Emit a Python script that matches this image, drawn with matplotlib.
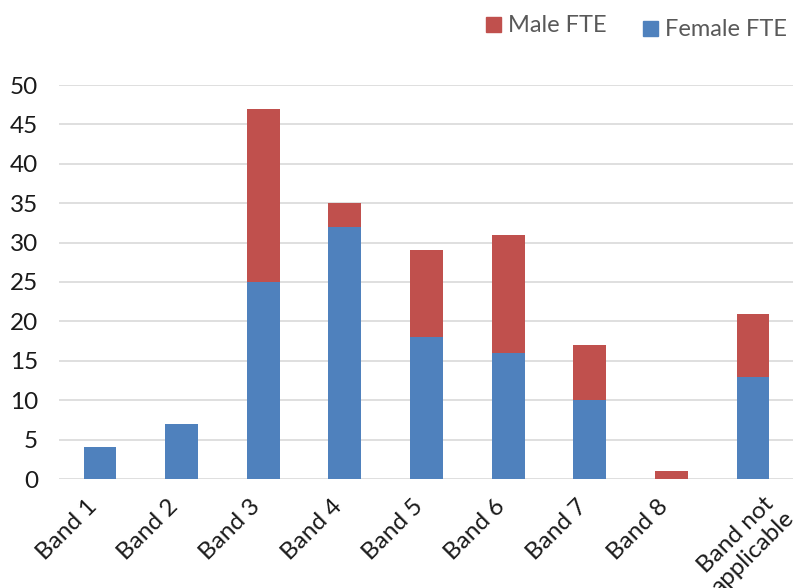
import numpy as np
import matplotlib.pyplot as plt
import matplotlib.patches as patches
import matplotlib.transforms as mtransforms

# Data
bands = ["Band 1", "Band 2", "Band 3", "Band 4", "Band 5",
         "Band 6", "Band 7", "Band 8", "Band not\napplicable"]
female_fte = [4, 7, 25, 32, 18, 16, 10, 0, 13]
male_fte = [0, 0, 22, 3, 11, 15, 7, 1, 8]
y_ticks = [0, 5, 10, 15, 20, 25, 30, 35, 40, 45, 50]

BLUE = '#4f81bd'
RED = '#c0504d'
FONT = 'Lato'
FS = 17.5

W, H = 793, 588
fig = plt.figure(figsize=(W / 100, H / 100), dpi=100)
ax = fig.add_axes([59 / W, (H - 479) / H, (794 - 59) / W, (479 - 85) / H])

x = np.arange(len(bands))
ax.bar(x, female_fte, 0.4, color=BLUE, zorder=3)
ax.bar(x, male_fte, 0.4, bottom=female_fte, color=RED, zorder=3)

ax.set_xlim(-0.5, len(bands) - 0.5)
ax.set_ylim(0, 50)
ax.set_yticks(y_ticks)
ax.grid(axis='y', color='#d9d9d9', linewidth=1.2, zorder=0)
for s in ax.spines.values():
    s.set_visible(False)
ax.tick_params(axis='both', length=0)
ax.tick_params(axis='y', pad=15)

for lbl in ax.get_yticklabels():
    lbl.set_fontfamily(FONT)
    lbl.set_fontsize(FS)
    lbl.set_color('#1a1a1a')

ax.set_xticks(x)
ax.set_xticklabels(bands, rotation=45, ha='right', va='top',
                   rotation_mode='anchor', multialignment='center')
for lbl in ax.get_xticklabels():
    if '\n' in lbl.get_text():
        dx, dy = 13, -6
    else:
        dx, dy = -14, -12
    shift = mtransforms.ScaledTranslation(dx / 100, dy / 100, fig.dpi_scale_trans)
    lbl.set_fontfamily(FONT)
    lbl.set_fontsize(FS)
    lbl.set_color('#1a1a1a')
    lbl.set_transform(lbl.get_transform() + shift)

# Legend drawn by hand to keep the offset positions of the reference
def legend_item(sx, sy, label, color):
    fig.add_artist(patches.Rectangle((sx / W, 1 - (sy + 15) / H), 15 / W, 15 / H,
                                     transform=fig.transFigure, color=color))
    fig.text((sx + 22) / W, 1 - (sy + 8) / H, label, fontfamily=FONT,
             fontsize=17, color='#595959', va='center', ha='left')

legend_item(486, 17, "Male FTE", RED)
legend_item(643, 21, "Female FTE", BLUE)

fig.savefig('out.png', dpi=100)
